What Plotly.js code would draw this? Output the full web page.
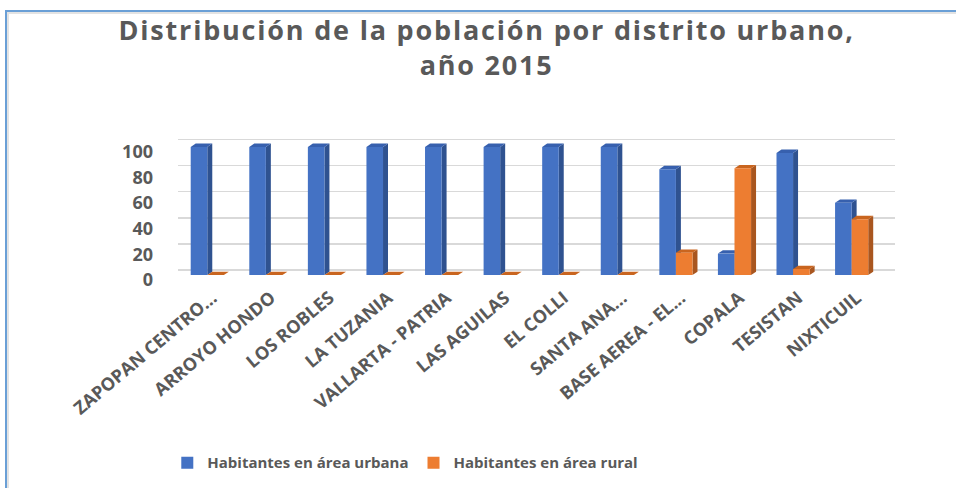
<!DOCTYPE html>
<html>
<head>
<meta charset="utf-8">
<script src="https://cdn.plot.ly/plotly-3.0.1.min.js"></script>
<style>
  html, body { margin: 0; padding: 0; background: #ffffff; }
  #wrap { position: relative; width: 956px; height: 488px; overflow: hidden; }
  #chart { position: absolute; left: 0; top: 0; width: 956px; height: 488px; }
  #frame { position: absolute; left: 5px; top: 10px; width: 980px; height: 500px;
           border-top: 2px solid #6a9fd6; border-left: 2px solid #6a9fd6;
           box-shadow: inset 2px 2px 0 #e3e3e3; pointer-events: none; }
  .gtitle { letter-spacing: 1.8px; }
</style>
</head>
<body>
<div id="wrap">
  <div id="chart"></div>
  <div id="frame"></div>
</div>
<script>
const categories = ["ZAPOPAN CENTRO...", "ARROYO HONDO", "LOS ROBLES", "LA TUZANIA",
  "VALLARTA - PATRIA", "LAS AGUILAS", "EL COLLI", "SANTA ANA...", "BASE AEREA - EL...",
  "COPALA", "TESISTAN", "NIXTICUIL"];
const urbana = [100, 100, 100, 100, 100, 100, 100, 100, 82.6, 16.7, 95.3, 56.4];
const rural  = [0, 0, 0, 0, 0, 0, 0, 0, 17.4, 83.3, 4.7, 43.6];
const seriesNames = ["Habitantes en área urbana", "Habitantes en área rural"];
const yTicks = [0, 20, 40, 60, 80, 100];

const blue = "#4472C4", orange = "#ED7D31";
const blueSide = "#2F5290", orangeSide = "#A9561F";
const blueTop = "#3760AE", orangeTop = "#C9651F";

const bargap = 0.434;
const barW = (1 - bargap) / 2;          // width of one bar in category units
const depthX = 0.085;                   // 3D depth, category units
const depthY = 2.6;                     // 3D depth, value units

const traces = [
  { type: "bar", name: seriesNames[0], x: categories, y: urbana,
    marker: { color: blue, line: { width: 0 } }, hoverinfo: "x+y+name" },
  { type: "bar", name: seriesNames[1], x: categories, y: rural,
    marker: { color: orange, line: { width: 0 } }, hoverinfo: "x+y+name" },
  // invisible trace to carry the back-wall gridline axis
  { type: "scatter", x: [categories[0]], y: [0], yaxis: "y2", mode: "markers",
    marker: { opacity: 0 }, showlegend: false, hoverinfo: "skip" }
];

function poly(pts) {
  return "M" + pts.map(p => p[0] + "," + p[1]).join(" L") + " Z";
}
const shapes = [];
categories.forEach((c, i) => {
  [[urbana, -1, blueSide, blueTop], [rural, 0, orangeSide, orangeTop]].forEach(([arr, off, sideC, topC]) => {
    const v = arr[i];
    const xl = i + off * barW;
    const xr = xl + barW;
    shapes.push({ type: "path", xref: "x", yref: "y", layer: "between",
      path: poly([[xr, 0], [xr + depthX, depthY], [xr + depthX, v + depthY], [xr, v]]),
      fillcolor: sideC, line: { width: 0 } });
    shapes.push({ type: "path", xref: "x", yref: "y", layer: "between",
      path: poly([[xl, v], [xr, v], [xr + depthX, v + depthY], [xl + depthX, v + depthY]]),
      fillcolor: topC, line: { width: 0 } });
  });
});

const layout = {
  width: 956, height: 488,
  margin: { l: 178, r: 61, t: 130, b: 212, pad: 0 },
  paper_bgcolor: "rgba(0,0,0,0)", plot_bgcolor: "rgba(0,0,0,0)",
  font: { family: "Open Sans, sans-serif", color: "#595959" },
  title: {
    text: "Distribución de la población por distrito urbano,<br>año 2015",
    font: { family: "Open Sans, sans-serif", size: 27, color: "#595959", weight: "bold" },
    x: 0.509, xref: "container", xanchor: "center",
    y: 0.918, yref: "container", yanchor: "top"
  },
  barmode: "group", bargap: bargap, bargroupgap: 0,
  xaxis: {
    type: "category", range: [-0.5, 11.74],
    showgrid: false, showline: false, zeroline: false, ticks: "",
    tickangle: -40, ticklabelstandoff: 8, ticklabelshift: 5,
    tickfont: { family: "Open Sans, sans-serif", size: 18, color: "#595959", weight: "bold" }
  },
  yaxis: {
    range: [0, 113.2], showgrid: false, zeroline: false, showline: false, ticks: "",
    tickvals: yTicks, ticktext: yTicks.map(String),
    ticklabelstandoff: 24, ticklabelshift: 5,
    tickfont: { family: "Open Sans, sans-serif", size: 18, color: "#595959", weight: "bold" }
  },
  yaxis2: {
    overlaying: "y", range: [-3.81, 107.39], tickvals: yTicks,
    showticklabels: false, showgrid: true, gridcolor: "#d9d9d9", gridwidth: 1.3,
    zeroline: false, showline: false, ticks: ""
  },
  showlegend: true,
  legend: {
    orientation: "h", x: 0.317, xanchor: "center", y: -1.28, yanchor: "middle",
    font: { family: "Open Sans, sans-serif", size: 15, color: "#595959", weight: "bold" },
    itemwidth: 30, traceorder: "normal", bgcolor: "rgba(0,0,0,0)"
  },
  shapes: shapes
};

Plotly.newPlot("chart", traces, layout, { staticPlot: true, displayModeBar: false });
</script>
</body>
</html>
